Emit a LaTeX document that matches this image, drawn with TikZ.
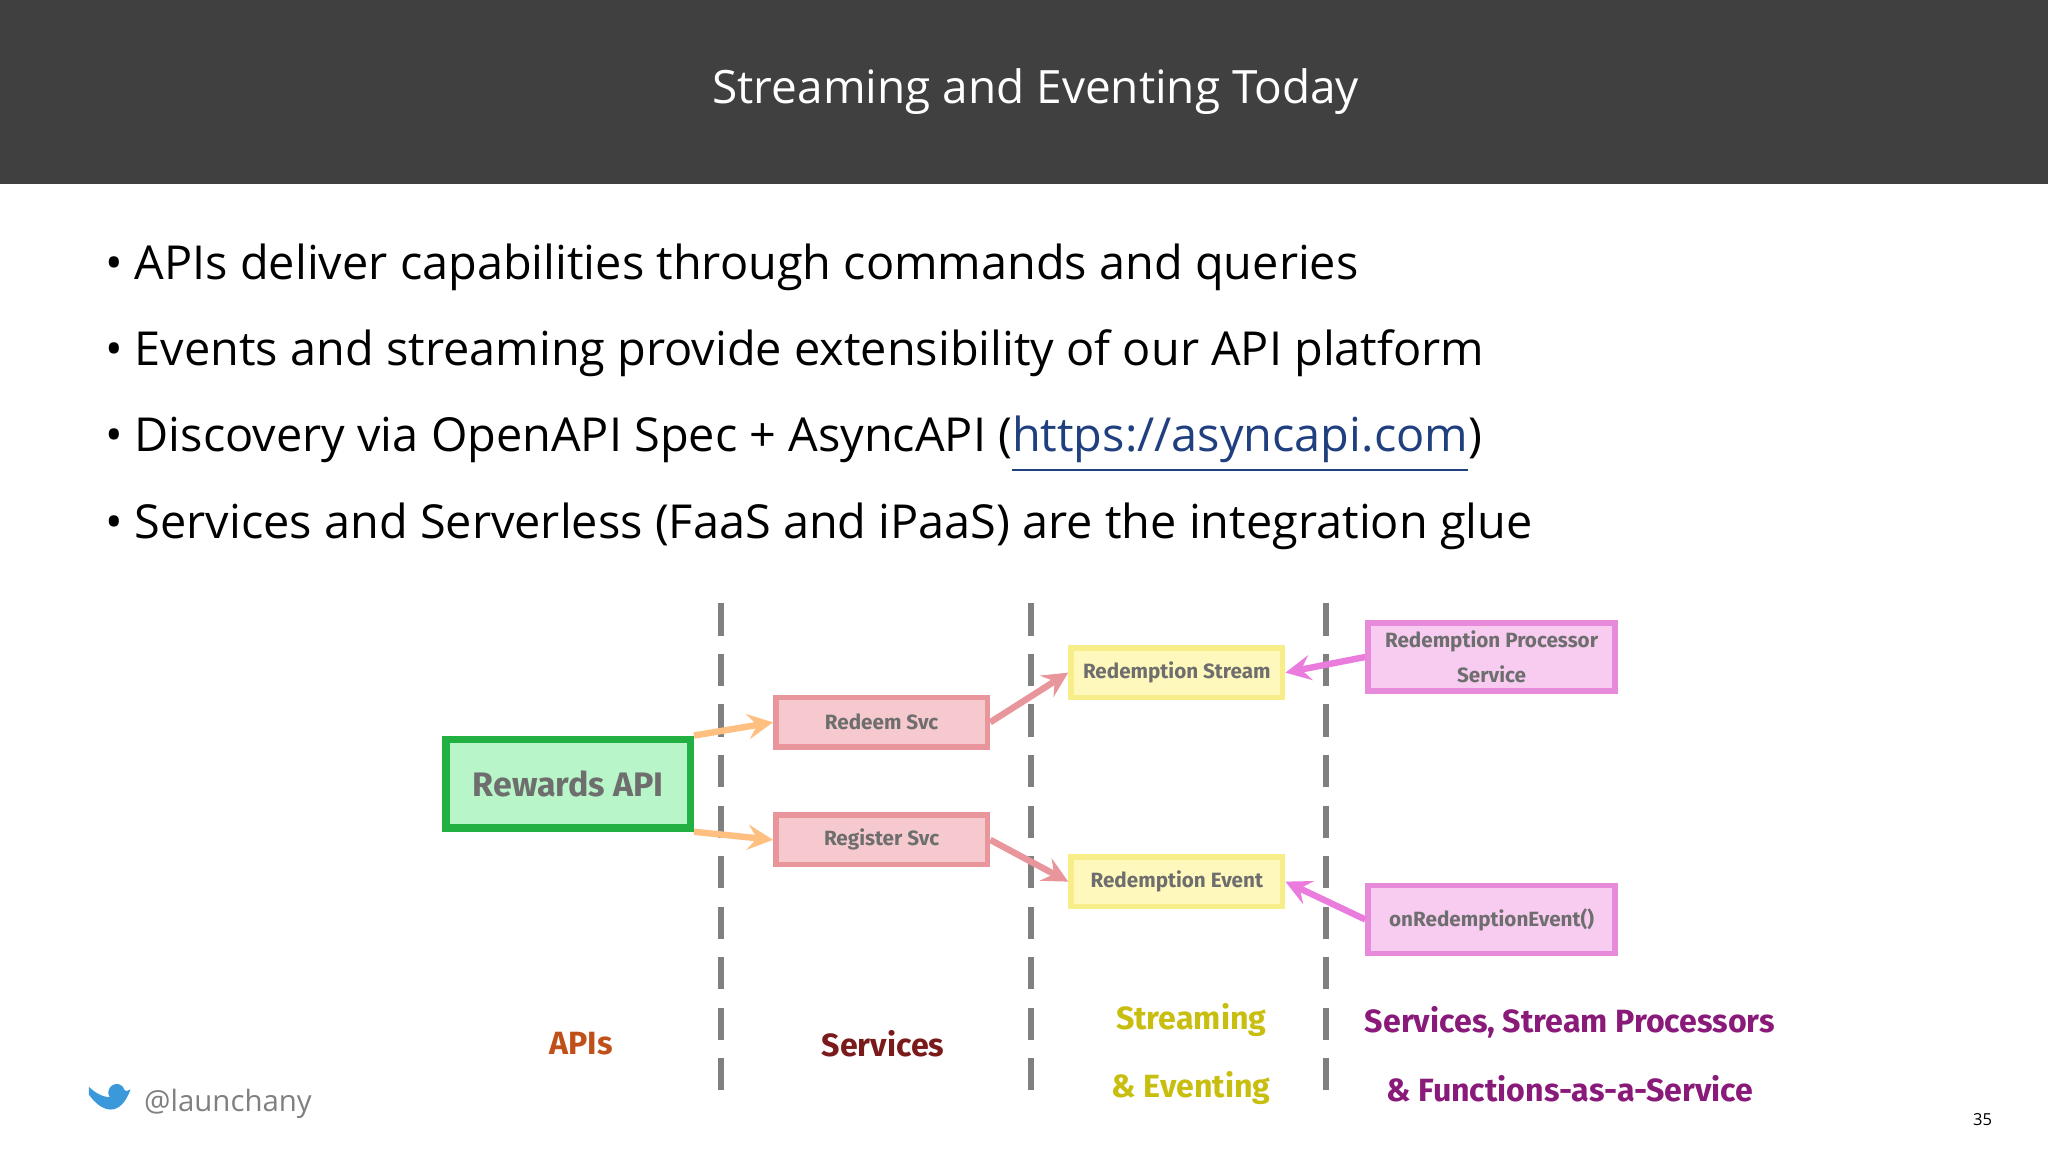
\documentclass[tikz,border=0pt]{standalone}
\usepackage{fontspec}
\setmainfont{Open Sans}
\newfontfamily\labelfont{Fira Sans}
\usetikzlibrary{positioning}
\definecolor{band}{HTML}{404040}
\definecolor{apigreen}{HTML}{B8F5C8}
\definecolor{apiedge}{HTML}{22B043}
\definecolor{svcfill}{HTML}{F6C9CE}
\definecolor{svcedge}{HTML}{E8959C}
\definecolor{strfill}{HTML}{FFF8BC}
\definecolor{stredge}{HTML}{F7EE8A}
\definecolor{fnfill}{HTML}{F8CCF0}
\definecolor{fnedge}{HTML}{E88ADA}
\definecolor{boxtext}{HTML}{6E6E6E}
\definecolor{linkblue}{HTML}{1F3F7F}
\tikzset{
  box/.style={draw, line width=1.2pt, inner sep=1pt, minimum height=0.38cm, minimum width=1.62cm,
    align=center, font=\labelfont\bfseries\fontsize{4.5}{6.5}\selectfont, text=boxtext},
  svc/.style={box, fill=svcfill, draw=svcedge},
  stream/.style={box, fill=strfill, draw=stredge},
  fn/.style={box, fill=fnfill, draw=fnedge, minimum width=1.89cm, minimum height=0.52cm},
  flow/.style={->, line width=1.4pt, >=stealth},
  lane/.style={gray, line width=1.3pt, dash pattern=on 7pt off 4pt},
  bullet/.style={anchor=base west, font=\fontsize{10.2}{12}\selectfont},
  tier/.style={font=\labelfont\bfseries\fontsize{7}{9}\selectfont}
}
\begin{document}
\begin{tikzpicture}[x=0.01cm, y=-0.01cm]
\useasboundingbox (0,0) rectangle (1568,882);
\fill[band] (0,0) rectangle (1568,141);
\node (title) [text=white, font=\fontsize{10}{12}\selectfont] at (793,70) {Streaming and Eventing Today};

% bullets
\node (b1) [bullet] at (68,214) {• APIs deliver capabilities through commands and queries};
\node (b2) [bullet] at (68,280) {• Events and streaming provide extensibility of our API platform};
\node (b3) [bullet] at (68,346) {• Discovery via OpenAPI Spec + AsyncAPI (\textcolor{linkblue}{\underline{https://asyncapi.com}})};
\node (b4) [bullet] at (68,412) {• Services and Serverless (FaaS and iPaaS) are the integration glue};

% lanes
\foreach \x in {552,789,1015}
  \draw[lane] (\x,462) -- (\x,835);

% boxes
\node (rewards) [box, fill=apigreen, draw=apiedge, line width=1.6pt, minimum width=1.87cm,
  minimum height=0.68cm, font=\labelfont\bfseries\fontsize{7.4}{9}\selectfont] at (435,600) {Rewards API};
\node (redeem) [svc] at (675,553) {Redeem Svc};
\node (register) [svc] at (675,643) {Register Svc};
\node (rstream) [stream] at (901,515) {Redemption Stream};
\node (revent) [stream] at (901,675) {Redemption Event};
\node (proc) [fn] at (1142,503) {Redemption Processor\\[1pt]Service};
\node (onevt) [fn] at (1142,704) {onRedemptionEvent()};

% flows
\draw[flow, color=orange!50] (rewards.north east) -- (redeem.west);
\draw[flow, color=orange!50] (rewards.south east) -- (register.west);
\draw[flow, color=svcedge] (redeem.east) -- (rstream.west);
\draw[flow, color=svcedge] (register.east) -- (revent.west);
\draw[flow, color=fnedge!90!magenta] (proc.west) -- (rstream.east);
\draw[flow, color=fnedge!90!magenta] (onevt.west) -- (revent.east);

% tiers
\node (tapi) [tier, text={rgb,255:red,192;green,80;blue,26}] at (445,799) {APIs};
\node (tsvc) [tier, text={rgb,255:red,122;green,26;blue,26}] at (676,799) {Services};
\node (tstr) [tier, text={rgb,255:red,200;green,190;blue,16}, align=center] at (912,807) {Streaming\\[6pt]\& Eventing};
\node (tfn) [tier, text={rgb,255:red,138;green,26;blue,122}, align=center] at (1202,807) {Services, Stream Processors\\[6pt]\& Functions-as-a-Service};

% footer
\fill[cyan!70!blue!80] (68,838) .. controls (78,852) and (92,856) .. (100,834)
  .. controls (96,836) .. (94,832) .. controls (88,826) and (80,834) .. (84,840)
  .. controls (78,840) and (72,836) .. (68,832) -- cycle;
\node (handle) [text=gray, font=\fontsize{6.4}{8}\selectfont, anchor=west] at (98,845) {@launchany};
\node (page) [font=\fontsize{3.6}{4}\selectfont] at (1518,857) {35};
\end{tikzpicture}
\end{document}
